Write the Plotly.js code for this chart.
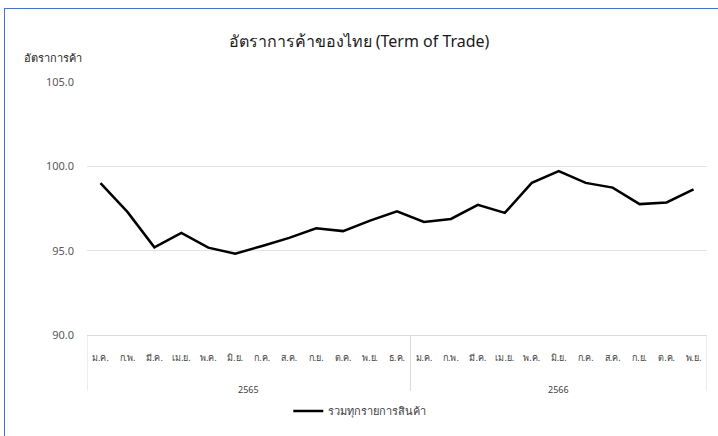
<!DOCTYPE html>
<html>
<head>
<meta charset="utf-8">
<script src="https://cdn.plot.ly/plotly-3.0.1.min.js"></script>
<style>
html,body{margin:0;padding:0;background:#fff;}
#chart{width:718px;height:436px;position:absolute;left:0;top:0;}
#frame{position:absolute;left:4px;top:8px;width:800px;height:500px;border-left:1px solid #4472c4;border-top:1px solid #4472c4;pointer-events:none;}
</style>
</head>
<body>
<div id="chart"></div>
<div id="frame"></div>
<script>
const years = ["2565","2565","2565","2565","2565","2565","2565","2565","2565","2565","2565","2565",
               "2566","2566","2566","2566","2566","2566","2566","2566","2566","2566","2566"];
const months = ["ม.ค.","ก.พ.","มี.ค.","เม.ย.","พ.ค.","มิ.ย.","ก.ค.","ส.ค.","ก.ย.","ต.ค.","พ.ย.","ธ.ค.",
                "ม.ค.","ก.พ.","มี.ค.","เม.ย.","พ.ค.","มิ.ย.","ก.ค.","ส.ค.","ก.ย.","ต.ค.","พ.ย."];
const totValues = [99.0,97.3,95.2,96.05,95.18,94.82,95.28,95.76,96.33,96.16,96.78,97.33,
                   96.7,96.88,97.72,97.24,99.02,99.72,99.02,98.74,97.76,97.86,98.64];
const seriesName = "รวมทุกรายการสินค้า";
const chartTitle = "อัตราการค้าของไทย (Term of Trade)";
const yTitle = "อัตราการค้า";

const FONT = "Tahoma, 'Noto Sans', 'DejaVu Sans', sans-serif";

// category positions (month index)
const xIdx = months.map((_, i) => i);

// year groups derived from the years array
const groups = [];
years.forEach((y, i) => {
  const g = groups[groups.length - 1];
  if (g && g.name === y) g.end = i; else groups.push({name: y, start: i, end: i});
});

const DIV_DEPTH = -0.221;
const shapes = [];
groups.forEach(g => {
  shapes.push({type: 'line', xref: 'x', yref: 'paper', x0: g.start - 0.5, x1: g.start - 0.5,
               y0: 0, y1: DIV_DEPTH, line: {color: '#d9d9d9', width: 1}});
});
const lastG = groups[groups.length - 1];
shapes.push({type: 'line', xref: 'x', yref: 'paper', x0: lastG.end + 0.5, x1: lastG.end + 0.5,
             y0: 0, y1: DIV_DEPTH, line: {color: '#d9d9d9', width: 1}});

const annotations = groups.map(g => ({
  text: g.name, xref: 'x', yref: 'paper', x: (g.start + g.end) / 2, y: -0.217,
  xanchor: 'center', yanchor: 'middle', showarrow: false,
  font: {size: 9, color: '#404040'}
}));
annotations.push({
  text: yTitle, xref: 'paper', yref: 'paper', x: -0.105, xanchor: 'left',
  y: 1.097, yanchor: 'middle', showarrow: false, font: {size: 11, color: '#1a1a1a'}
});

Plotly.newPlot('chart', [{
  x: xIdx,
  y: totValues,
  type: 'scatter',
  mode: 'lines',
  name: seriesName,
  line: {color: '#000000', width: 2.5}
}], {
  width: 718, height: 436,
  margin: {l: 87, r: 11, t: 82, b: 96},
  paper_bgcolor: '#ffffff', plot_bgcolor: '#ffffff',
  font: {family: FONT, size: 11, color: '#404040'},
  title: {text: chartTitle, x: 0.5, xanchor: 'center', y: 0.905, yanchor: 'middle',
          font: {family: FONT, size: 16, color: '#1a1a1a'}},
  xaxis: {
    range: [-0.5, months.length - 0.5],
    tickmode: 'array', tickvals: xIdx, ticktext: months,
    showgrid: false, zeroline: false,
    showline: true, linecolor: '#d9d9d9', linewidth: 1,
    ticks: '', tickangle: 0, ticklabelstandoff: 14,
    tickfont: {size: 9, color: '#404040'}
  },
  yaxis: {
    range: [90, 105], dtick: 5, tickformat: '.1f',
    showgrid: true, gridcolor: '#e3e3e3', gridwidth: 1,
    zeroline: false, showline: false, ticks: '', ticklabelstandoff: 12,
    tickfont: {size: 11, color: '#595959'}
  },
  showlegend: true,
  legend: {orientation: 'h', x: 0.44, xanchor: 'center', y: -0.30, yanchor: 'middle',
           font: {size: 11, color: '#404040'}},
  shapes: shapes,
  annotations: annotations
}, {displayModeBar: false});
</script>
</body>
</html>
